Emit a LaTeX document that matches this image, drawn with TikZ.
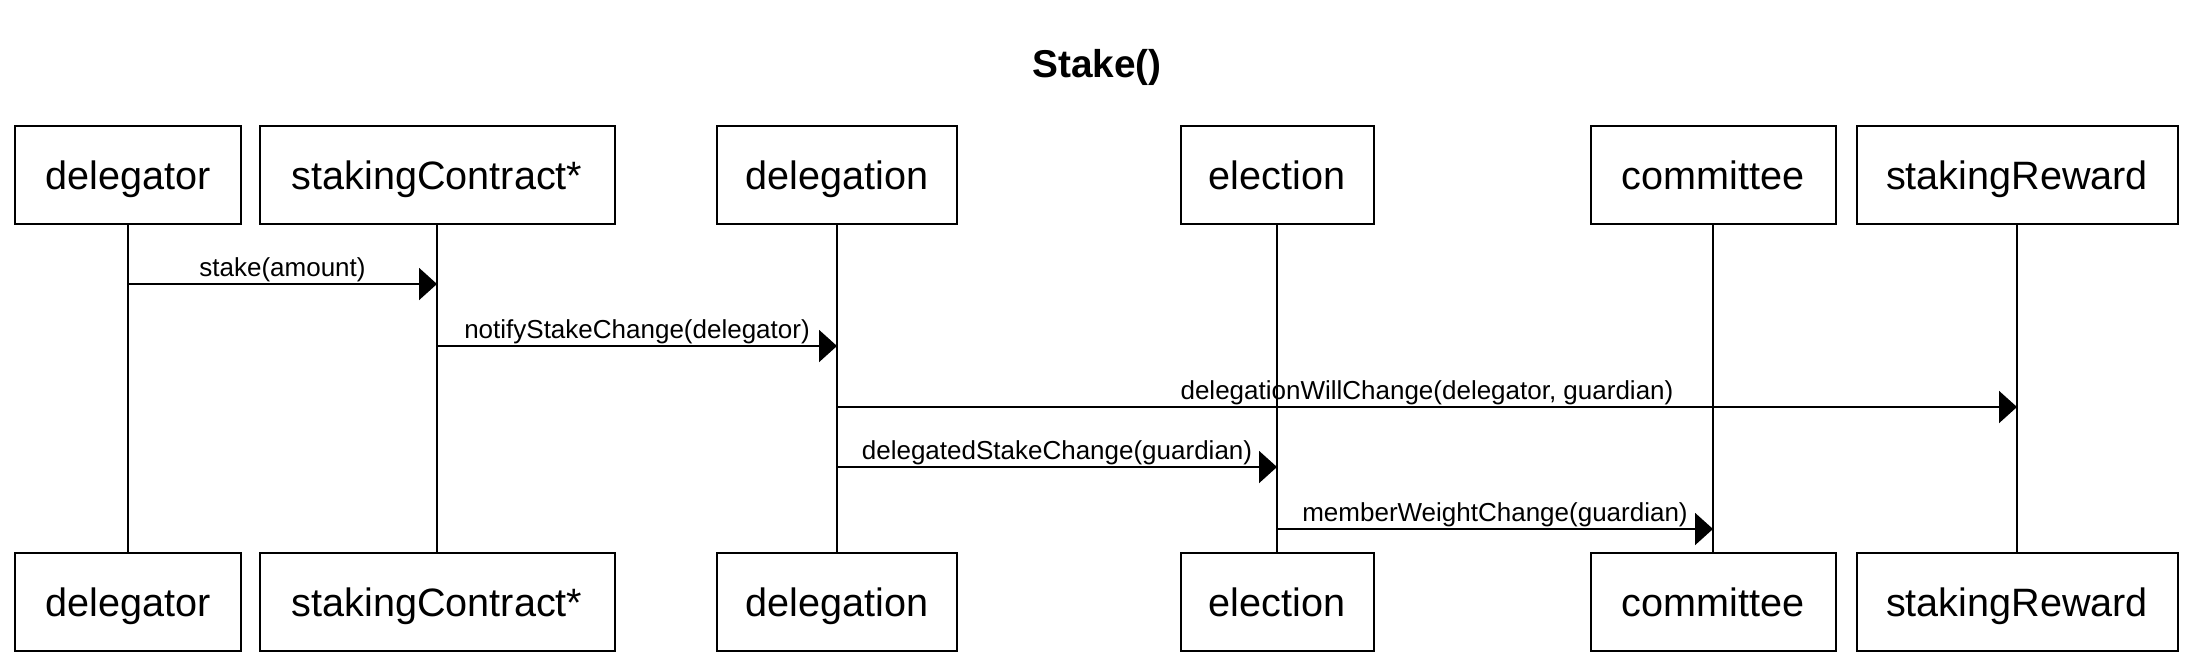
\documentclass[tikz,border=0pt]{standalone}
\usepackage{fontspec}
\setmainfont{Liberation Sans}
\usetikzlibrary{arrows.meta}
\tikzset{
  actor/.style={draw, line width=1pt, inner sep=0pt, minimum height=49pt,
    text height=18.5pt, text depth=4.2pt,
    font=\fontsize{19.8}{24}\selectfont},
  msg/.style={line width=1pt, -{Triangle[length=9pt,width=16pt]}},
  lbl/.style={above, inner sep=0.5pt, font=\fontsize{13}{15}\selectfont},
  life/.style={line width=1pt}
}

\begin{document}
\begin{tikzpicture}[x=0.5pt,y=-0.5pt]
\useasboundingbox (0,0) rectangle (2196,670);
\node (T) at (1097,67) {\fontsize{19.4}{24}\selectfont\bfseries Stake()};
% top row
\node[actor, minimum width=113pt] (dT) at (128,175) {delegator};
\node[actor, minimum width=177.5pt] (scT) at (437,175) {stakingContract*};
\node[actor, minimum width=120pt] (dgT) at (837,175) {delegation};
\node[actor, minimum width=96.5pt] (eT) at (1277,175) {election};
\node[actor, minimum width=122.5pt] (cT) at (1713,175) {committee};
\node[actor, minimum width=160.5pt] (srT) at (2017,175) {stakingReward};
% bottom row
\node[actor, minimum width=113pt] (dB) at (128,602) {delegator};
\node[actor, minimum width=177.5pt] (scB) at (437,602) {stakingContract*};
\node[actor, minimum width=120pt] (dgB) at (837,602) {delegation};
\node[actor, minimum width=96.5pt] (eB) at (1277,602) {election};
\node[actor, minimum width=122.5pt] (cB) at (1713,602) {committee};
\node[actor, minimum width=160.5pt] (srB) at (2017,602) {stakingReward};
% lifelines
\draw[life] (dT) -- (dB);
\draw[life] (scT) -- (scB);
\draw[life] (dgT) -- (dgB);
\draw[life] (eT) -- (eB);
\draw[life] (cT) -- (cB);
\draw[life] (srT) -- (srB);
% messages
\draw[msg] (dT |- 0,284) -- node[lbl]{stake(amount)} (scT |- 0,284);
\draw[msg] (scT |- 0,346) -- node[lbl]{notifyStakeChange(delegator)} (dgT |- 0,346);
\draw[msg] (dgT |- 0,407) -- node[lbl]{delegationWillChange(delegator, guardian)} (srT |- 0,407);
\draw[msg] (dgT |- 0,467) -- node[lbl]{delegatedStakeChange(guardian)} (eT |- 0,467);
\draw[msg] (eT |- 0,529) -- node[lbl]{memberWeightChange(guardian)} (cT |- 0,529);
\end{tikzpicture}
\end{document}
